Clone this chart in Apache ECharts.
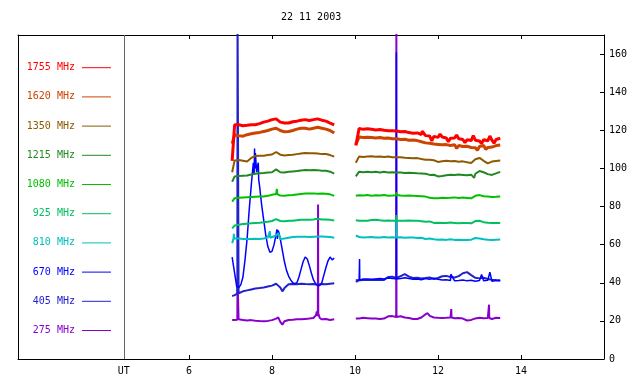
<!DOCTYPE html>
<html><head><meta charset="utf-8">
<script src="https://cdn.jsdelivr.net/npm/echarts@6/dist/echarts.min.js"></script>
<style>html,body{margin:0;padding:0;background:#fff}#c{width:640px;height:384px}</style>
</head><body><div id="c"></div>
<script>
const TITLE = '22 11 2003';
const NAMES = ['1755 MHz','1620 MHz','1350 MHz','1215 MHz','1080 MHz','925 MHz','810 MHz','670 MHz','405 MHz','275 MHz'];
const COLORS = ['#ff0000','#cc4400','#8c5a00','#228822','#00c000','#00c060','#00c0c0','#0000ff','#2222cc','#8800cc'];
const WIDTHS = [3,3,2,2,2,2,2,1.5,2,2];
const XTICKS = [6,8,10,12,14];
const YTICKS = [0,20,40,60,80,100,120,140,160];
const UT_POS = 4.43;
const GAP = 9.77;
const TS = [7.04, 10.02];
const T1 = [7.1,7.2,7.3,7.4,7.5,7.6,7.7,7.8,7.9,8.0,8.1,8.2,8.3,8.4,8.5,8.6,8.7,8.8,8.9,9.0,9.1,9.2,9.3,9.4,9.5];
const T1F = [7.05,7.1,7.15,7.2,7.25,7.3,7.35,7.4,7.45,7.5,7.55,7.6,7.65,7.7,7.75,7.8,7.85,7.9,7.95,8.0,8.05,8.1,8.15,8.2,8.25,8.3,8.35,8.4,8.45,8.5,8.55,8.6,8.65,8.7,8.75,8.8,8.85,8.9,8.95,9.0,9.05,9.1,9.15,9.2,9.25,9.3,9.35,9.4,9.45,9.5];
const T2 = [10.1,10.2,10.3,10.4,10.5,10.6,10.7,10.8,10.9,11.0,11.1,11.2,11.3,11.4,11.5,11.6,11.7,11.8,11.9,12.0,12.1,12.2,12.3,12.4,12.5,12.6,12.7,12.8,12.9,13.0,13.1,13.2,13.3,13.4,13.5];

// 1755 MHz
const s1755 = [104, 112];
const a1755 = [122.9,122.9,122.4,122.6,122.9,122.9,123.5,124.3,124.8,125.6,126,124.3,123.8,123.8,124.5,124.8,125.3,125.6,125.1,125.6,126,125.3,124.8,123.8,122.9];
const b1755 = [121,120.5,120.8,120.5,120.2,120.4,120,119.8,119.8,119.6,119.2,119.4,118.8,118.5,118.6,117.8,117.2,117,116.8,116.3,116.5,116,115.8,116,115.6,115.2,115,114.6,114.8,114.4,115,114.5,114.8,115.2,115.8];
const e1755 = [[11.62,119.5],[11.85,114.5],[12.05,118],[12.25,114],[12.45,117.5],[12.65,113.5],[12.85,117.2],[13.05,113],[13.25,117],[13.35,113.2]];
// 1620 MHz
const s1620 = [113, 112.5];
const a1620 = [117.7,117.2,116.9,117.7,118.2,118.6,118.9,119.4,119.9,120.6,121.1,119.9,119.2,119.4,119.9,120.6,121.1,121.1,120.6,121.1,121.6,121.1,120.6,119.9,118.6];
const b1620 = [116.5,116.2,116.4,116.2,116,116.2,115.8,115.9,115.6,115.6,115.2,115.3,114.8,114.9,114.6,114,113.4,113.2,112.8,112.6,112.4,112.5,112,112.4,112,111.5,111.6,111,110.8,111.5,112,111,111.2,112,112.3];
const e1620 = [[12.45,110.5],[12.95,109.5],[13.15,110]];
// 1350 MHz
const s1350 = [98, 103];
const a1350 = [104.2,104.4,104.0,103.6,105.5,106.5,106.7,106.6,107.0,107.3,108.6,107.2,106.8,107.0,107.2,107.5,107.8,108.1,107.9,108.0,107.8,107.5,107.6,107.0,106.2];
const b1350 = [106.3,106,106.2,106.4,106.1,106.2,106,106.2,105.9,105.8,105.9,105.6,105.5,105.3,105.4,104.9,104.6,104.6,104.3,103.4,103.7,104,103.8,103.9,103.5,103.7,103.2,102.9,104.8,105.5,104,102.6,103.6,103.9,104.1];
const e1350 = [];
// 1215 MHz
const s1215 = [93, 95.8];
const a1215 = [95.8,96.0,96.2,96.3,96.8,97.2,97.5,97.6,97.8,98.0,99.5,98.0,97.8,98.2,98.4,98.6,98.9,99.2,99.0,99.2,99.1,98.8,98.8,98.3,97.3];
const b1215 = [98.3,98,98.2,98,98.2,97.9,98.2,97.9,98,97.8,97.9,97.6,97.7,97.6,97.4,97.3,97.2,96.6,96.7,95.8,96,96.4,96.7,96.5,96.8,96.6,96.4,96.7,97.2,98.6,98,97,96.6,97.4,98.2];
const e1215 = [[12.87,95]];
// 1080 MHz
const s1080 = [82.5, 85.6];
const a1080 = [84.4,84.6,84.8,84.9,85.0,85.1,85.2,85.3,85.6,86.2,86.6,85.8,85.7,85.9,86.0,86.3,86.6,86.8,86.8,86.9,86.7,86.8,86.7,86.4,85.6];
const b1080 = [85.9,85.8,86,85.7,85.9,85.8,86,85.7,85.8,86,85.8,85.7,85.8,85.6,85.5,85.4,85.2,84.6,84.4,84.3,84.6,84.5,84.6,84.8,84.5,84.7,84.5,84.3,85.6,86,85.4,85.2,85,85.1,85.3];
const e1080 = [[8.115,86.5],[8.12,89.2],[8.125,86.5],[10.993,85.9],[10.997,87.5]];
// 925 MHz
const s925 = [68.5, 72.8];
const a925 = [70.0,70.4,70.8,71.0,71.2,71.4,71.5,71.7,72.0,72.4,73.4,72.4,72.3,72.5,72.6,72.8,73.0,73.1,73.0,73.2,73.6,73.2,73.2,73.0,72.7];
const b925 = [72.6,72.6,72.5,72.9,73.1,72.8,72.6,72.7,72.6,72.6,72.6,72.5,72.7,72.5,72.6,72.3,72,72.2,71.4,71.5,71.3,71.4,71.6,71.4,71.2,71.4,71.3,71.2,72.4,72.5,71.8,71.5,71.3,71.4,71.3];
const e925 = [[10.993,72.6],[10.997,75.6]];
// 810 MHz
const s810 = [60.8, 64.8];
const a810 = [63.3,63.2,63.0,62.9,63.0,63.1,63.0,63.2,63.8,63.6,64.8,63.0,63.2,63.6,64.0,64.1,64.2,64.2,64.0,64.2,64.3,64.3,64.2,64.0,63.6];
const b810 = [64,63.8,63.9,64,63.8,63.7,64,63.8,63.9,63.8,63.9,63.6,63.8,63.7,63.5,63.6,63,63.2,62.8,62.6,62.7,62.5,62.8,62.5,62.6,62.4,62.5,62.6,63.5,63.2,62.8,62.6,62.5,62.6,62.7];
const e810 = [[7.075,63.3],[7.08,65.7],[7.085,63.3],[7.945,63.6],[7.95,67],[7.955,63.6],[8.15,66],[10.993,63.8],[10.997,73]];
// 670 MHz
const s670 = [53.5, 41.5];
const a670 = [52,45,38,37.5,39,43,52,63,78,91,103,108,101,91,81,73,65,59,56,56.5,60,65.5,67.5,63,57,51,46.5,43.5,41.5,40,39.5,40,43,47,51,53.5,52.5,49,45,41.5,39.5,38.5,38.5,40,44,48,51.5,53.5,52,53];
const b670 = [41.5,42,42,41.8,42,42.2,42,42.5,42.3,42,42.2,42.6,42.2,41.8,42,41.6,42.2,41.8,42.4,41.8,41.5,41.6,41.2,41,41.2,41.5,41,41.3,40.8,41.2,41,41.3,40.8,41.2,41];
const e670 = [[7.57,97],[7.58,110.5],[7.59,100],[7.62,109],[7.63,98],[7.67,103],[7.68,94],[8.12,68],[8.13,63],[8.17,66],[10.105,41.5],[10.11,52.5],[10.115,41.5],[10.993,42],[10.997,161],[12.31,44.5],[13.05,44.3],[13.25,45.6]];
// 405 MHz
const s405 = [33, 40.5];
const a405 = [33.5,34.5,35.5,36,36.5,37,37.2,37.5,38,38.5,39.5,37.5,37.2,39.2,39.3,39.2,39.5,39.3,39.2,39.4,39.0,39.3,39.2,39.5,39.8];
const b405 = [41.3,41.4,41.5,41.4,41.6,41.5,41.5,43,43.2,42.5,43.5,44.5,43.2,42.5,42.6,42.3,42.5,42.8,42,42.5,43.4,43.6,43,42.8,43.5,45,45.6,44,42.6,42.3,42.6,42,41.6,41.4,41.3];
const e405 = [[7.165,34.3],[7.17,185],[7.19,185],[7.195,34.5],[8.15,38.5],[8.25,35.5]];
// 275 MHz
const s275 = [20.5, 21.2];
const a275 = [20.5,20.8,20.5,20.2,20.4,20.1,19.9,19.8,20,20.4,21.2,19.5,19.8,20.5,20.6,20.8,20.8,21,21.2,21.5,22.5,20.8,21,20.5,20.8];
const b275 = [21.3,21.6,21.4,21.2,21.3,21.0,21.2,22.4,22.5,22.0,22.4,21.8,21.5,21.0,21.0,21.8,23.5,22.6,21.8,21.6,21.5,21.6,21.8,21.4,21.5,21.2,20.2,20.5,21.3,21.6,21.4,21.5,21.0,21.6,21.5];
const e275 = [[7.165,20.6],[7.17,42],[7.19,42],[7.195,20.8],[8.15,21.8],[8.25,18],[9.06,23],[9.08,25],[9.105,24],[9.11,81],[9.115,24],[9.13,25],[9.15,21.5],[10.993,22],[10.997,175],[11.75,24],[12.315,21.8],[12.32,26.2],[12.325,21.8],[13.225,21.5],[13.23,28.5],[13.235,21.5]];

function build(st, a, ta, b, extra) {
  const pts = [[TS[0], st[0]], [GAP, null], [TS[1], st[1]]];
  ta.forEach((t, i) => pts.push([t, a[i]]));
  T2.forEach((t, i) => pts.push([t, b[i]]));
  extra.forEach(p => pts.push(p));
  pts.sort((p, q) => p[0] - q[0]);
  return pts;
}
const DATA = [
  build(s1755, a1755, T1, b1755, e1755),
  build(s1620, a1620, T1, b1620, e1620),
  build(s1350, a1350, T1, b1350, e1350),
  build(s1215, a1215, T1, b1215, e1215),
  build(s1080, a1080, T1, b1080, e1080),
  build(s925, a925, T1, b925, e925),
  build(s810, a810, T1, b810, e810),
  build(s670, a670, T1F, b670, e670),
  build(s405, a405, T1, b405, e405),
  build(s275, a275, T1, b275, e275)
];

const FONT = 'DejaVu Sans Mono';
const series = [];
for (let i = NAMES.length - 1; i >= 0; i--) {
  const s = {
    name: NAMES[i], type: 'line', data: DATA[i], symbol: 'none', showSymbol: false,
    connectNulls: false, clip: true, silent: true, animation: false,
    color: COLORS[i],
    lineStyle: { color: COLORS[i], width: WIDTHS[i] }
  };
  if (i === NAMES.length - 1) {
    s.markLine = {
      silent: true, symbol: 'none', animation: false,
      label: { show: false },
      lineStyle: { color: '#666666', width: 1, type: 'solid' },
      data: [{ xAxis: UT_POS }]
    };
  }
  series.push(s);
}

const chart = echarts.init(document.getElementById('c'), null, { renderer: 'canvas' });
chart.setOption({
  animation: false,
  backgroundColor: '#ffffff',
  title: {
    text: TITLE, left: 281, top: 12, padding: 0,
    textStyle: { fontFamily: FONT, fontSize: 10, fontWeight: 'normal', color: '#000' }
  },
  legend: {
    orient: 'vertical', align: 'right', left: 26.8, top: 61.7, padding: 0,
    icon: 'rect', itemWidth: 29, itemHeight: 1, itemGap: 17.2,
    selectedMode: false,
    textStyle: { fontFamily: FONT, fontSize: 10, lineHeight: 12, padding: [0, 2, 0, 0] },
    data: NAMES.map((n, i) => ({ name: n, textStyle: { color: COLORS[i] } }))
  },
  grid: { left: 18, right: 36, top: 35, bottom: 25, containLabel: false },
  xAxis: [
    {
      type: 'value', position: 'bottom', min: 1.88, max: 16,
      axisLine: { show: true, onZero: false, lineStyle: { color: '#000', width: 1 } },
      axisTick: { show: true, inside: true, length: 4, customValues: XTICKS, lineStyle: { color: '#000' } },
      axisLabel: {
        show: true, margin: 7, customValues: [UT_POS].concat(XTICKS),
        fontFamily: FONT, fontSize: 10, color: '#000',
        formatter: v => (Math.abs(v - UT_POS) < 1e-6 ? 'UT' : String(v))
      },
      splitLine: { show: false }
    },
    {
      type: 'value', position: 'top', min: 1.88, max: 16,
      axisLine: { show: true, onZero: false, lineStyle: { color: '#000', width: 1 } },
      axisTick: { show: true, inside: true, length: 4, customValues: XTICKS, lineStyle: { color: '#000' } },
      axisLabel: { show: false },
      splitLine: { show: false }
    }
  ],
  yAxis: [
    {
      type: 'value', position: 'right', min: 0, max: 170,
      axisLine: { show: true, onZero: false, lineStyle: { color: '#000', width: 1 } },
      axisTick: { show: true, inside: true, length: 4, customValues: YTICKS, lineStyle: { color: '#000' } },
      axisLabel: { show: true, margin: 5, customValues: YTICKS, fontFamily: FONT, fontSize: 10, color: '#000' },
      splitLine: { show: false }
    },
    {
      type: 'value', position: 'left', min: 0, max: 170,
      axisLine: { show: true, onZero: false, lineStyle: { color: '#000', width: 1 } },
      axisTick: { show: false }, axisLabel: { show: false }, splitLine: { show: false }
    }
  ],
  series: series
});
</script>
</body></html>
